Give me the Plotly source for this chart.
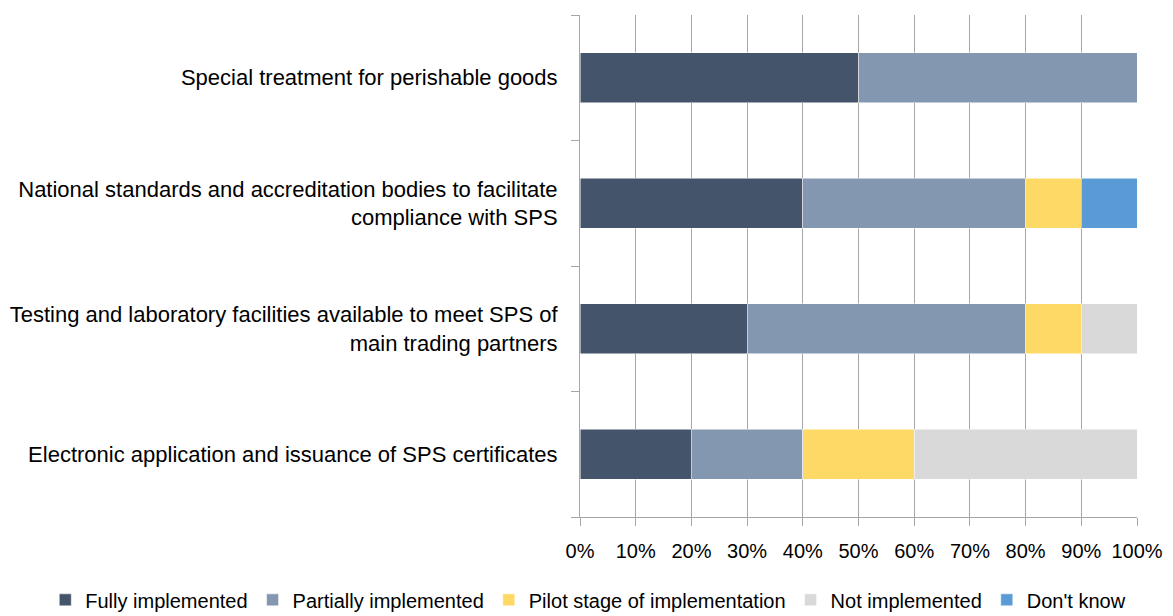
import plotly.graph_objects as go

categories = [
    "Special treatment for perishable goods",
    "National standards and accreditation bodies to facilitate<br>compliance with SPS",
    "Testing and laboratory facilities available to meet SPS of<br>main trading partners",
    "Electronic application and issuance of SPS certificates",
]

series_names = ["Fully implemented", "Partially implemented", "Pilot stage of implementation",
                "Not implemented", "Don't know"]
fully = [50, 40, 30, 20]
partially = [50, 40, 50, 20]
pilot = [0, 10, 10, 20]
not_impl = [0, 0, 10, 40]
dont_know = [0, 10, 0, 0]

colors = ["#44546A", "#8497B0", "#FFD966", "#D9D9D9", "#5B9BD5"]

fig = go.Figure()
for name, vals, col in zip(series_names, [fully, partially, pilot, not_impl, dont_know], colors):
    fig.add_trace(go.Bar(
        y=categories, x=[v / 100 for v in vals], name=name, orientation="h",
        marker=dict(color=col, line=dict(color="white", width=0.5)),
        width=0.4,
    ))

# page body has an 8px margin, so the figure is shifted by 8px
font = "Liberation Sans, Arial, sans-serif"
fig.update_layout(
    barmode="stack",
    width=1165, height=608,
    margin=dict(l=572, r=36, t=7, b=99, autoexpand=False),
    paper_bgcolor="white", plot_bgcolor="white",
    font=dict(family=font, size=20, color="#000000"),
    legend=dict(orientation="h", x=-0.96, xanchor="left", y=-0.165, yanchor="middle",
                font=dict(size=20), itemwidth=30, traceorder="normal"),
    xaxis=dict(range=[0, 1], tickvals=[i / 10 for i in range(11)], tickformat=".0%",
               showgrid=True, gridcolor="#A6A6A6", gridwidth=1,
               showline=True, linecolor="#A6A6A6", ticks="outside", ticklen=8,
               tickcolor="#A6A6A6", tickfont=dict(size=20), zeroline=False,
               ticklabelstandoff=8),
    yaxis=dict(categoryorder="array", categoryarray=categories[::-1],
               showline=True, linecolor="#A6A6A6", ticks="outside", ticklen=8,
               tickcolor="#A6A6A6", tickson="boundaries", tickfont=dict(size=22),
               ticklabelstandoff=17, showgrid=False),
)

fig.write_html("out.html")
